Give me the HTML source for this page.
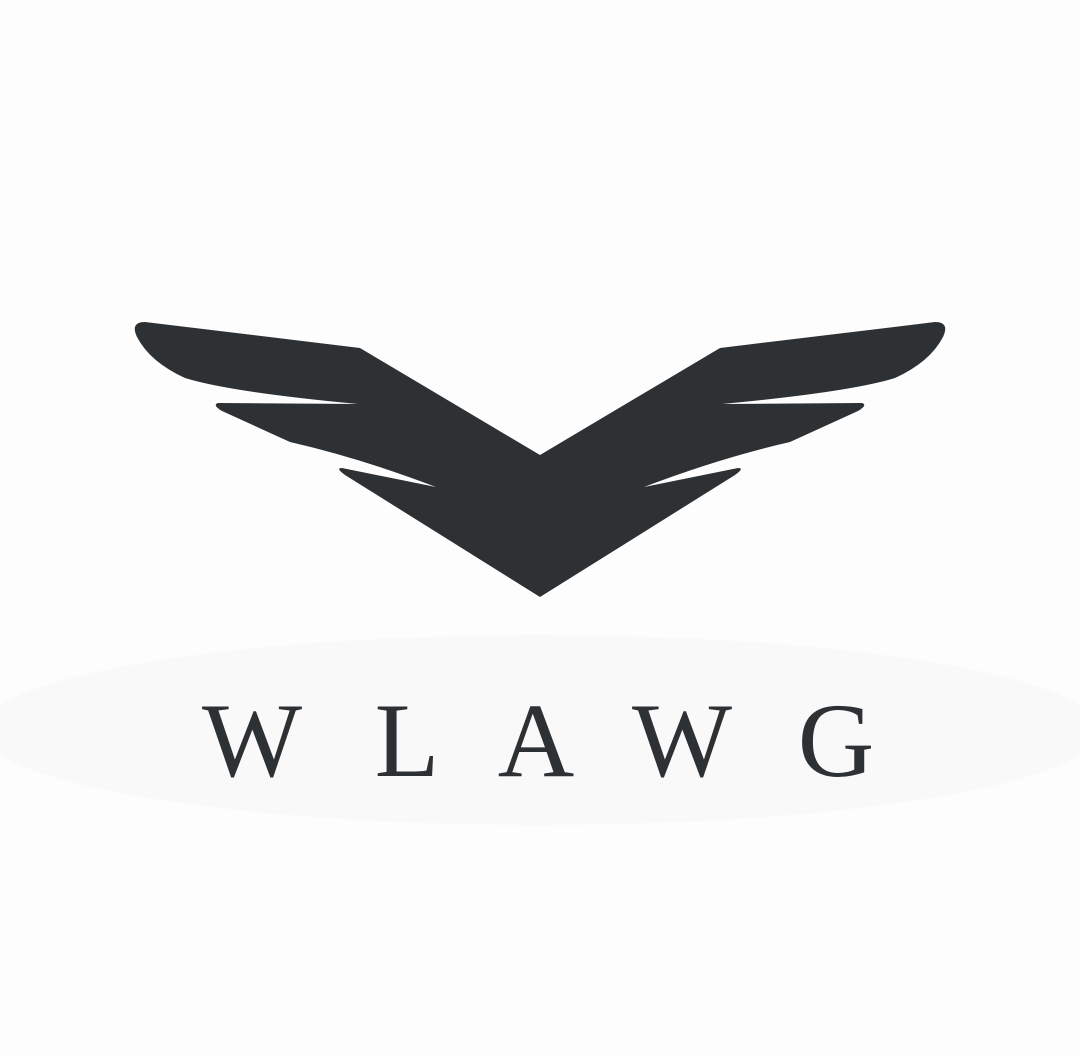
<!DOCTYPE html>
<html><head><meta charset="utf-8"><style>
html,body{margin:0;padding:0;background:#fdfdfd;width:1080px;height:1056px;overflow:hidden}
</style></head><body>
<svg width="1080" height="1056" viewBox="0 0 1080 1056" xmlns="http://www.w3.org/2000/svg">
<rect width="1080" height="1056" fill="#fdfdfd"/>
<ellipse cx="540" cy="730" rx="560" ry="95" fill="#f9f9f9"/>
<g fill="#2e3134">
<path d="M540,455 L360,348 L145,322 Q130,322 137,337 Q150,362 185,378 Q230,392 358,404 L218,403 Q212,405 222,411 L290,442 Q360,458 436,487 L342,468 Q335,468 345,475 L540,597 Z"/>
<path d="M540,455 L720,348 L935,322 Q950,322 943,337 Q930,362 895,378 Q850,392 722,404 L862,403 Q868,405 858,411 L790,442 Q720,458 644,487 L738,468 Q745,468 735,475 L540,597 Z"/>
</g>
<g font-family="'Liberation Serif',serif" font-size="106" fill="#2e3134" text-anchor="middle">
<text x="252" y="776">W</text>
<text x="407" y="776">L</text>
<text x="536" y="776">A</text>
<text x="682" y="776">W</text>
<text x="836" y="776">G</text>
</g>
</svg>
</body></html>
